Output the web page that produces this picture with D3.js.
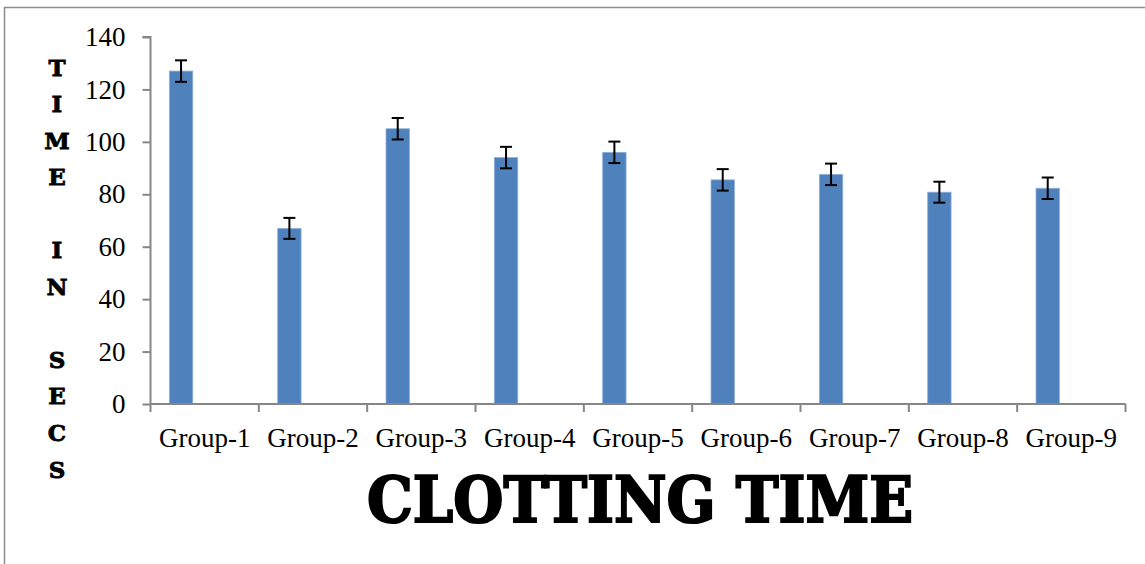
<!DOCTYPE html>
<html>
<head>
<meta charset="utf-8">
<script src="https://cdn.jsdelivr.net/npm/d3@7"></script>
<style>
  html, body { margin: 0; padding: 0; background: #fff; }
  svg { display: block; }
</style>
</head>
<body>
<script>
// ---- data ----
const categories = ["Group-1","Group-2","Group-3","Group-4","Group-5","Group-6","Group-7","Group-8","Group-9"];
const values = [127, 67, 105, 94, 96, 85.5, 87.6, 80.8, 82.3];
const errors = [4.1, 4, 4.1, 4.1, 4.1, 4.1, 4.1, 4, 4.1];
const yTicks = [0, 20, 40, 60, 80, 100, 120, 140];
const yTitleLines = ["T","I","M","E","","I","N","","S","E","C","S"];
const chartTitle = "CLOTTING TIME";

const W = 1145, H = 564;
const svg = d3.select("body").append("svg").attr("width", W).attr("height", H);

// outer border (cut off on right/bottom as in reference)
svg.append("rect").attr("x", 4.5).attr("y", 7.5).attr("width", 1300).attr("height", 700)
  .attr("fill", "none").attr("stroke", "#8c8c8c").attr("stroke-width", 1.5);

const x = d3.scaleBand().domain(categories).range([150.5, 1125.5]).padding(0);
const y = d3.scaleLinear().domain([0, 140]).range([404, 37]);
const axisColor = "#868686";
const serif = "'Liberation Serif', 'Times New Roman', serif";
const slab = "'DejaVu Serif', 'Liberation Serif', serif";

// bars
const bw = x.bandwidth();
svg.append("g").selectAll("rect").data(categories).join("rect")
  .attr("x", (d) => x(d) + bw * 0.174)
  .attr("width", bw * 0.216)
  .attr("y", (d, i) => y(values[i]))
  .attr("height", (d, i) => y(0) - y(values[i]))
  .attr("fill", "#4F81BD")
  .attr("stroke", "#8fb0d8").attr("stroke-width", 0.8);

// error bars
const eg = svg.append("g").attr("stroke", "#000").attr("stroke-width", 2);
categories.forEach((c, i) => {
  const cx = x(c) + bw * 0.174 + bw * 0.108;
  const yt = y(values[i] + errors[i]), yb = y(values[i] - errors[i]);
  eg.append("line").attr("x1", cx).attr("x2", cx).attr("y1", yt).attr("y2", yb);
  eg.append("line").attr("x1", cx - 6).attr("x2", cx + 6).attr("y1", yt).attr("y2", yt);
  eg.append("line").attr("x1", cx - 6).attr("x2", cx + 6).attr("y1", yb).attr("y2", yb);
});

// y axis
const yAxis = svg.append("g").attr("transform", "translate(150.5,0)")
  .call(d3.axisLeft(y).tickValues(yTicks).tickSize(8).tickPadding(17).tickFormat(d3.format("d")));
yAxis.selectAll("path, line").attr("stroke", axisColor).attr("stroke-width", 2);
yAxis.select(".domain").attr("d", `M-8,${y(140)}H0V${y(0)}`);
yAxis.selectAll("text").attr("font-family", serif).attr("font-size", 27).attr("fill", "#000");

// x axis
const xAxis = svg.append("g").attr("transform", `translate(0,${y(0)})`)
  .call(d3.axisBottom(x).tickSize(0).tickPadding(43));
xAxis.select(".domain").attr("stroke", axisColor).attr("stroke-width", 2).attr("d", `M150.5,0H1125.5`);
xAxis.selectAll("text").attr("font-family", serif).attr("font-size", 27).attr("fill", "#000").attr("dy", "0");
// category boundary ticks
const bounds = categories.map(c => x(c)).concat([x(categories[categories.length - 1]) + bw]);
xAxis.append("g").selectAll("line").data(bounds).join("line")
  .attr("x1", d => d).attr("x2", d => d).attr("y1", 0).attr("y2", 8)
  .attr("stroke", axisColor).attr("stroke-width", 2);

// y title (stacked letters)
svg.append("g").selectAll("text").data(yTitleLines).join("text")
  .attr("x", 57).attr("y", (d, i) => 67 + i * 36.55)
  .attr("dominant-baseline", "central")
  .attr("text-anchor", "middle")
  .attr("font-family", slab).attr("font-weight", "bold").attr("font-size", 23)
  .attr("stroke", "#000").attr("stroke-width", 0.8)
  .text(d => d);

// chart title
svg.append("text").attr("x", 367).attr("y", 522)
  .attr("font-family", slab).attr("font-weight", "bold").attr("font-size", 64)
  .attr("stroke", "#000").attr("stroke-width", 2.2)
  .attr("textLength", 546).attr("lengthAdjust", "spacingAndGlyphs")
  .text(chartTitle);
</script>
</body>
</html>
